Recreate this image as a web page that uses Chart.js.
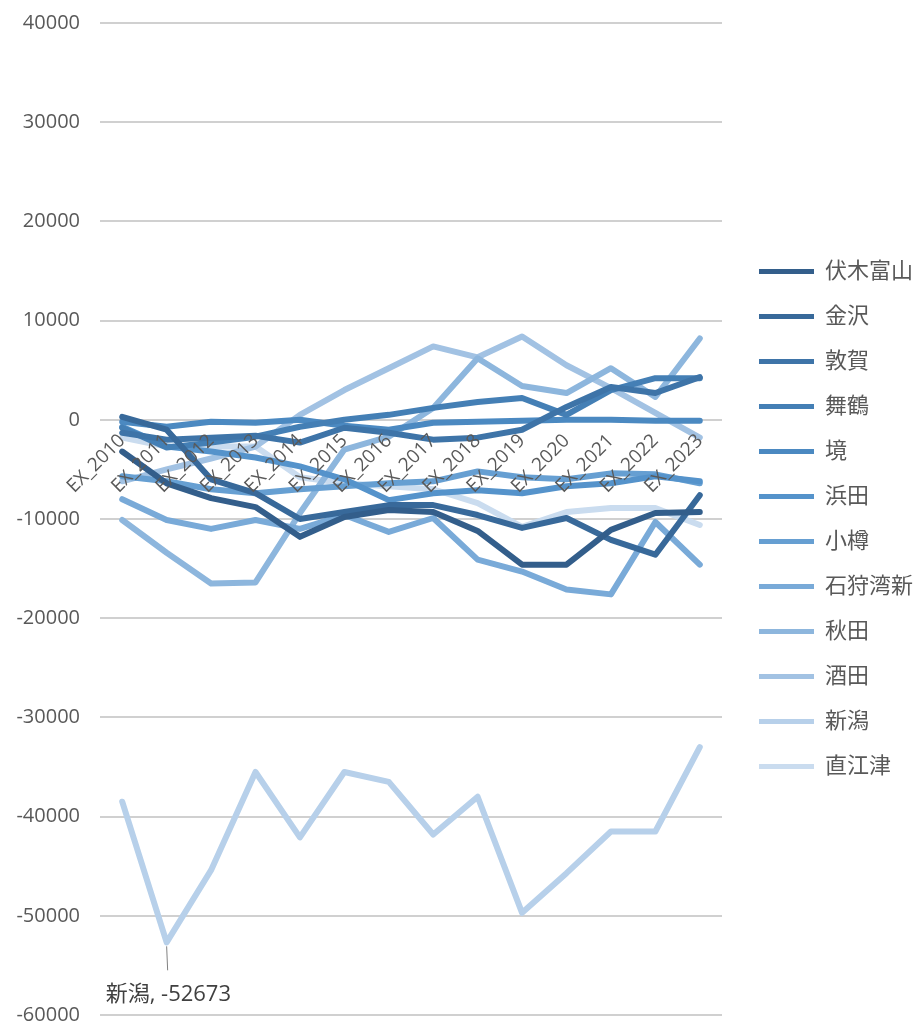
<!DOCTYPE html>
<html>
<head>
<meta charset="utf-8">
<script src="https://cdn.jsdelivr.net/npm/chart.js@4.4.1/dist/chart.umd.min.js"></script>
<style>
  body { margin: 0; background: #fff; }
</style>
</head>
<body>
<canvas id="chart" width="923" height="1030"></canvas>
<script>
// categories along the x axis
const years = ['EX_2010', 'EX_2011', 'EX_2012', 'EX_2013', 'EX_2014', 'EX_2015', 'EX_2016',
               'EX_2017', 'EX_2018', 'EX_2019', 'EX_2020', 'EX_2021', 'EX_2022', 'EX_2023'];

// port names, in legend order
const ports = ['伏木富山', '金沢', '敦賀', '舞鶴', '境', '浜田', '小樽', '石狩湾新', '秋田', '酒田', '新潟', '直江津'];

// values (estimates)
const fushikiToyama = [-3200, -6400, -7900, -8800, -11800, -9800, -9100, -9300, -11200, -14600, -14600, -11100, -9400, -9300];
const kanazawa      = [300, -1000, -6000, -7400, -10000, -9300, -8600, -8600, -9600, -10900, -9900, -12100, -13600, -7600];
const tsuruga       = [-1300, -2000, -1800, -1600, -2300, -800, -1300, -2000, -1800, -1000, 1300, 3300, 2700, 4300];
const maizuru       = [-800, -2800, -2300, -1700, -700, 0, 500, 1200, 1800, 2200, 500, 3000, 4200, 4200];
const sakai         = [-200, -700, -200, -300, 0, -600, -1000, -300, -200, -100, 0, 0, -100, -100];
const hamada        = [-700, -2700, -3200, -3800, -4700, -6000, -8100, -7400, -7100, -7400, -6700, -6400, -5700, -6200];
const otaru         = [-5700, -6200, -7000, -7400, -7000, -6700, -6400, -6200, -5200, -5800, -6000, -5400, -5500, -6400];
const ishikariwan   = [-8000, -10100, -11000, -10100, -11000, -9600, -11300, -9900, -14100, -15300, -17100, -17600, -10300, -14600];
const akita         = [-10100, -13400, -16500, -16400, -9400, -3000, -1700, 1200, 6200, 3400, 2700, 5200, 2300, 8200];
const sakata        = [-6200, -5000, -3900, -2700, 500, 3000, 5200, 7400, 6300, 8400, 5500, 3200, 700, -1800];
const niigata       = [-38500, -52673, -45400, -35500, -42100, -35500, -36500, -41800, -38000, -49700, -45700, -41500, -41500, -33000];
const naoetsu       = [-1800, -2700, -2700, -2700, -5800, -6400, -6700, -7000, -8400, -10800, -9300, -8900, -8900, -10600];

const allSeries = [fushikiToyama, kanazawa, tsuruga, maizuru, sakai, hamada, otaru,
                   ishikariwan, akita, sakata, niigata, naoetsu];

// y axis ticks
const yMin = -60000;
const yMax = 40000;
const yStep = 10000;

// blue shades, dark to light
const colors = ['#335E8B', '#38699A', '#3E74A8', '#447FB5', '#4B89C1', '#5593CB',
                '#669FD2', '#79AAD8', '#8DB6DD', '#A2C2E3', '#B7D0EA', '#CADCEF'];

const TEXT_COLOR = '#595959';
const GRID_COLOR = '#d0d0d0';
const FONT = '"Open Sans", "Noto Sans CJK JP", sans-serif';

const datasets = [];
for (let i = 0; i < ports.length; i++) {
    datasets.push({
        label: ports[i],
        data: allSeries[i],
        borderColor: colors[i],
        backgroundColor: colors[i],
        borderWidth: 6,
        pointRadius: 0,
        tension: 0,
        borderJoinStyle: 'round',
        borderCapStyle: 'round'
    });
}

// draws the single data label under the lowest Niigata point
const niigataLabel = {
    id: 'niigataLabel',
    afterDatasetsDraw(chart) {
        const idx = ports.indexOf('新潟');
        const meta = chart.getDatasetMeta(idx);
        const pt = meta.data[1];
        const ctx = chart.ctx;
        ctx.save();
        ctx.strokeStyle = '#808080';
        ctx.lineWidth = 1;
        ctx.beginPath();
        ctx.moveTo(pt.x, pt.y + 4);
        ctx.lineTo(pt.x + 1, pt.y + 28);
        ctx.stroke();
        ctx.fillStyle = '#404040';
        ctx.font = '22px ' + FONT;
        ctx.textAlign = 'left';
        ctx.textBaseline = 'middle';
        ctx.fillText('新潟, ' + niigata[1], pt.x - 61, pt.y + 52);
        ctx.restore();
    }
};

new Chart(document.getElementById('chart'), {
    type: 'line',
    data: { labels: years, datasets: datasets },
    plugins: [niigataLabel],
    options: {
        responsive: false,
        animation: false,
        layout: { padding: { top: 23, bottom: 15, right: 0 } },
        plugins: {
            tooltip: { enabled: false },
            legend: {
                position: 'right',
                maxWidth: 220,
                labels: {
                    boxWidth: 55,
                    boxHeight: 5,
                    padding: 23,
                    color: TEXT_COLOR,
                    font: { size: 22, family: FONT },
                    useBorderRadius: true,
                    borderRadius: 2.5,
                    generateLabels(chart) {
                        return chart.data.datasets.map(function(ds, i) {
                            return {
                                text: ds.label,
                                fillStyle: ds.borderColor,
                                strokeStyle: ds.borderColor,
                                lineWidth: 0,
                                fontColor: TEXT_COLOR,
                                datasetIndex: i
                            };
                        });
                    }
                }
            }
        },
        scales: {
            x: {
                position: { y: 0 },
                offset: true,
                grid: { display: false, offset: true },
                border: { display: false },
                ticks: {
                    z: 1, // category labels sit on top of the lines
                    autoSkip: false,
                    maxRotation: 45,
                    minRotation: 45,
                    padding: 2,
                    color: TEXT_COLOR,
                    font: { size: 19, family: FONT }
                }
            },
            y: {
                min: yMin,
                max: yMax,
                afterFit(scale) {
                    scale.width = 100;
                    scale.paddingTop = 0;
                    scale.paddingBottom = 0;
                },
                grid: { color: GRID_COLOR, lineWidth: 2, drawTicks: false },
                border: { display: false },
                ticks: {
                    stepSize: yStep,
                    padding: 20,
                    color: TEXT_COLOR,
                    font: { size: 20, family: FONT },
                    callback: function(v) { return String(v); }
                }
            },
            // empty axis, only keeps a gap between plot and legend
            gap: {
                type: 'linear',
                position: 'right',
                afterFit(scale) {
                    scale.width = 14;
                    scale.paddingTop = 0;
                    scale.paddingBottom = 0;
                },
                grid: { display: false },
                border: { display: false },
                ticks: { display: false }
            }
        }
    }
});
</script>
</body>
</html>
